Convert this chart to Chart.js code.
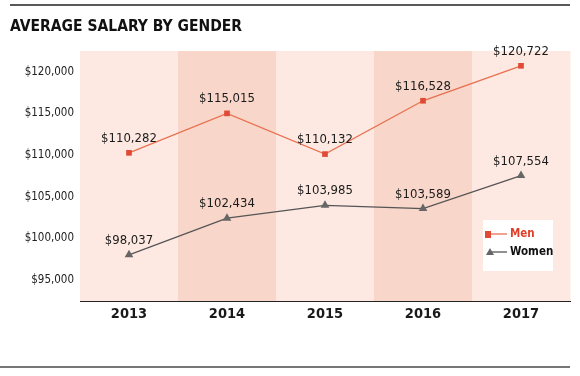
<!DOCTYPE html>
<html>
<head>
<meta charset="utf-8">
<script src="https://cdn.jsdelivr.net/npm/chart.js@4"></script>
<style>
  html, body { margin: 0; padding: 0; background: #fff; }
  #wrap { width: 580px; height: 376px; position: relative; }
</style>
</head>
<body>
<div id="wrap"><canvas id="salaryChart" width="580" height="376"></canvas></div>
<script>
const years = ['2013', '2014', '2015', '2016', '2017'];
const men = [110282, 115015, 110132, 116528, 120722];
const women = [98037, 102434, 103985, 103589, 107554];
const yTicks = [95000, 100000, 105000, 110000, 115000, 120000];

const FONT = '"Liberation Sans Narrow", "DejaVu Sans Condensed", "Liberation Sans", Arial, sans-serif';
const fmt = v => '$' + v.toLocaleString('en-US');

// page decorations: rules, title, shaded columns, value labels, legend
const decor = {
    id: 'decor',
    beforeDraw(chart) {
        const c = chart.ctx, a = chart.chartArea, x = chart.scales.x;
        c.save();
        c.fillStyle = '#fff';
        c.fillRect(0, 0, chart.width, chart.height);
        c.strokeStyle = '#222';
        c.lineWidth = 1.5;
        c.beginPath(); c.moveTo(10, 5); c.lineTo(570, 5); c.stroke();
        c.strokeStyle = '#777';
        c.lineWidth = 2;
        c.beginPath(); c.moveTo(0, 367); c.lineTo(570, 367); c.stroke();
        c.fillStyle = '#111';
        c.font = 'bold 15.5px ' + FONT;
        c.textBaseline = 'alphabetic';
        c.fillText('AVERAGE SALARY BY GENDER', 10, 31);
        const w = a.width / years.length;
        years.forEach((y, i) => {
            const cx = x.getPixelForValue(i);
            c.fillStyle = i % 2 ? '#f8d6c9' : '#fde9e2';
            c.fillRect(cx - w / 2, a.top, w + 0.5, a.bottom - a.top);
        });
        c.restore();
    },
    afterDatasetsDraw(chart) {
        const c = chart.ctx;
        c.save();
        c.font = '13px ' + FONT;
        c.fillStyle = '#1a1a1a';
        c.textAlign = 'center';
        c.textBaseline = 'alphabetic';
        chart.data.datasets.forEach((ds, di) => {
            chart.getDatasetMeta(di).data.forEach((pt, i) => {
                c.fillText(fmt(ds.data[i]), pt.x, pt.y - 11);
            });
        });
        // legend box
        c.fillStyle = '#fff';
        c.fillRect(483, 220, 70, 51);
        c.lineWidth = 1.3;
        c.strokeStyle = '#e8704f';
        c.beginPath(); c.moveTo(488, 234); c.lineTo(507, 234); c.stroke();
        c.fillStyle = '#e04a35';
        c.fillRect(485, 231, 6, 7);
        c.strokeStyle = '#555';
        c.beginPath(); c.moveTo(490, 252); c.lineTo(507, 252); c.stroke();
        c.fillStyle = '#666';
        c.beginPath(); c.moveTo(490, 248); c.lineTo(494, 255); c.lineTo(486, 255); c.closePath(); c.fill();
        c.textAlign = 'left';
        c.textBaseline = 'middle';
        c.font = 'bold 11.5px ' + FONT;
        c.fillStyle = '#e0402a';
        c.fillText('Men', 510, 234);
        c.fillStyle = '#111';
        c.fillText('Women', 510, 252);
        c.restore();
    }
};

new Chart(document.getElementById('salaryChart'), {
    type: 'line',
    data: {
        labels: years,
        datasets: [{
            label: 'Men',
            data: men,
            borderColor: '#e8704f',
            backgroundColor: '#e04a35',
            borderWidth: 1.3,
            pointStyle: 'rect',
            pointRadius: 4,
            pointBorderWidth: 0,
            clip: false
        }, {
            label: 'Women',
            data: women,
            borderColor: '#555',
            backgroundColor: '#666',
            borderWidth: 1.3,
            pointStyle: 'triangle',
            pointRadius: 5,
            pointBorderWidth: 0,
            clip: false
        }]
    },
    options: {
        responsive: false,
        animation: false,
        layout: { padding: { top: 51, right: 10, left: 0, bottom: 0 } },
        plugins: {
            legend: { display: false },
            tooltip: { enabled: false },
            title: { display: false }
        },
        scales: {
            x: {
                offset: true,
                grid: { display: false, drawTicks: false },
                border: { display: true, color: '#222', width: 1 },
                ticks: { color: '#1a1a1a', padding: 5, maxRotation: 0, font: { family: FONT, size: 14.5, weight: 'bold' } },
                afterFit: s => { s.height = 75; }
            },
            y: {
                min: 92500,
                max: 122500,
                grid: { display: false, drawTicks: false },
                border: { display: false },
                afterBuildTicks: s => { s.ticks = yTicks.map(v => ({ value: v })); },
                afterFit: s => { s.width = 80; },
                ticks: {
                    color: '#222',
                    padding: 6,
                    font: { family: FONT, size: 11.5 },
                    callback: v => fmt(v)
                }
            }
        }
    },
    plugins: [decor]
});
</script>
</body>
</html>
